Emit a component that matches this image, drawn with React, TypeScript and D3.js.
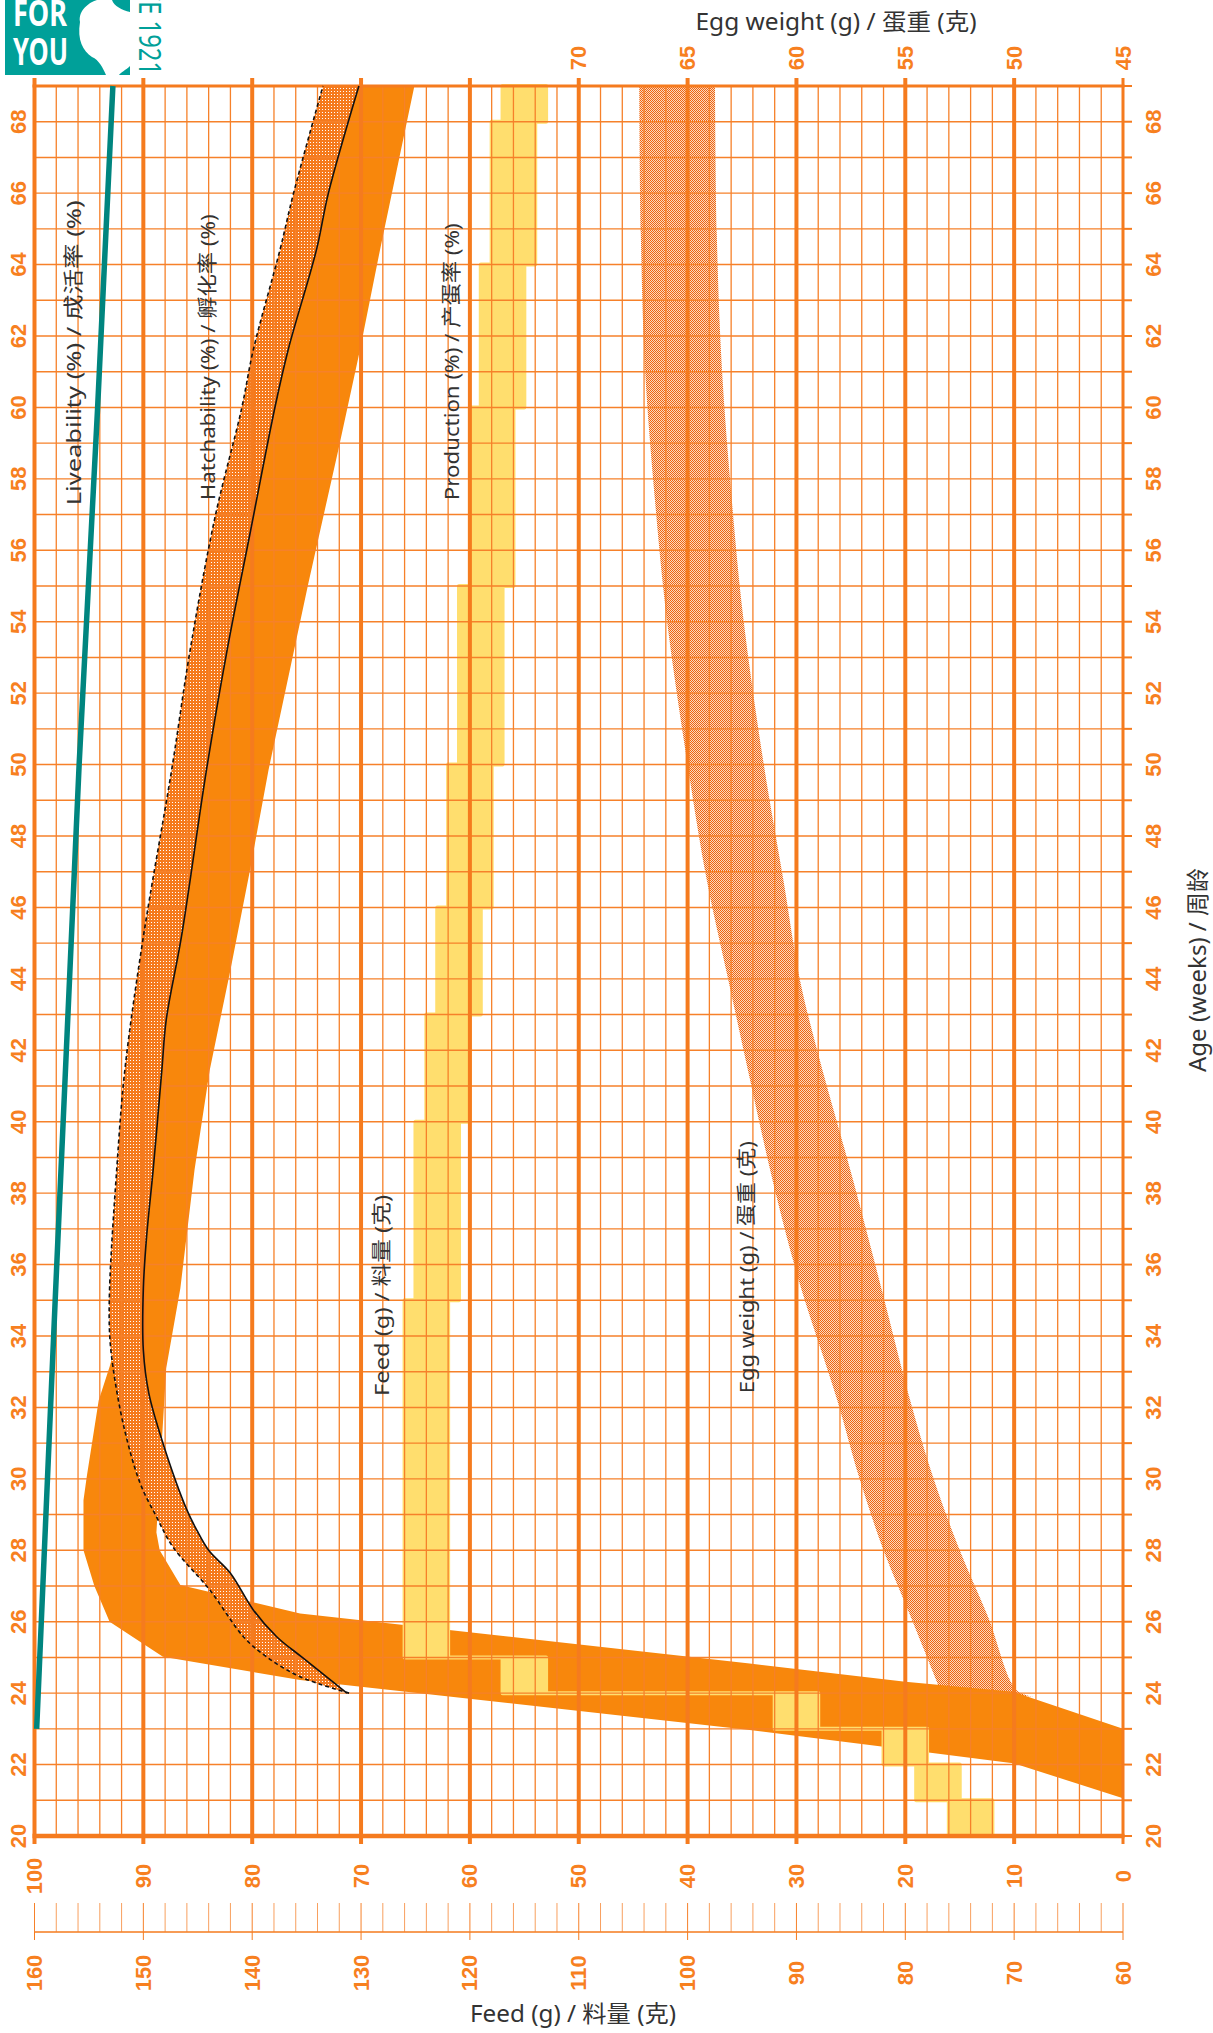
import React from 'react';
import * as d3 from 'd3';

const W = 1213;
const H = 2033;

// ---- Data ----
// Liveability (%)
const liveAges = [23, 35, 50, 60, 69];
const liveValues = [99.8, 98.1, 95.9, 94.2, 92.8];

// Hatchability (%) upper (dashed) and lower (solid) standard
const hatchUpperAges = [24, 24.46, 25.02, 25.58, 26.89, 28.1, 28.94, 29.88, 31.47, 33.15, 34.07, 35.34, 38.65, 41.45, 45.18, 49.85, 53.21, 56.95, 59.93, 61.61, 64.41, 66, 69];
const hatchUpperValues = [71.1, 75.6, 78.7, 80.8, 83.9, 87.3, 88.8, 90.3, 91.8, 92.8, 93.1, 93.1, 92.45, 91.7, 90.0, 87.4, 85.7, 83.4, 81.0, 79.9, 77.45, 76.2, 73.5];
const hatchLowerAges = [24, 25, 25.58, 26.33, 27.36, 28.0, 28.57, 29.13, 31.0, 32.4, 33.6, 35.34, 36.79, 38.65, 41.45, 42.85, 45.18, 49.85, 53.21, 56.47, 60.02, 61.61, 64.41, 66, 69];
const hatchLowerValues = [71.3, 75.4, 77.75, 79.9, 82.0, 84.0, 85.1, 86.0, 88.2, 89.5, 90.0, 90.0, 89.7, 89.1, 88.3, 87.9, 86.5, 84.2, 82.3, 80.2, 77.9, 76.7, 74.1, 73.0, 70.2];

// Production (%) high and low standard
const prodHighAges = [21.06, 22.04, 22.5, 22.97, 24.37, 25.02, 26.0, 27.0, 28.0, 29.4, 30.06, 32.2, 33.14, 34.0, 35.3, 38.65, 41.45, 45.18, 49.85, 53.2, 56.5, 60.0, 64.4, 69];
const prodHighValues = [0, 10.1, 22, 34.3, 75.6, 88.2, 93.1, 94.5, 95.5, 95.5, 95.2, 94.1, 93.1, 92.3, 90.6, 89.7, 88.9, 87.1, 84.8, 82.9, 80.8, 78.5, 74.7, 70.6];
const prodLowAges = [23.0, 24.04, 24.32, 24.83, 26.23, 27.03, 28.0, 28.5, 33.1, 35.34, 38.65, 41.45, 44.25, 47.05, 49.85, 55.08, 58.81, 61.61, 64.41, 69];
const prodLowValues = [0, 10.1, 20, 34.3, 75.6, 86.6, 88.5, 88.8, 87.9, 86.6, 85.3, 83.9, 82.0, 80.2, 78.5, 74.84, 72.09, 70.1, 68.26, 65.1];

// Egg weight (g) upper and lower standard
const eggUpperAges = [24.1, 26.14, 28.0, 30, 32.25, 35.57, 38.37, 41.17, 43.97, 46.77, 50, 54.1, 57.41, 61.14, 64.88, 69];
const eggUpperValues = [53.4, 54.75, 56.0, 57.1, 58.15, 59.9, 61.1, 62.13, 63.13, 64.12, 65.0, 65.96, 66.5, 66.96, 67.15, 67.22];
const eggLowerAges = [23.9, 24.09, 26.14, 28.0, 30.0, 32.25, 35.1, 38.37, 41.89, 43.97, 46.77, 50, 54.1, 57.41, 61.14, 64.88, 69];
const eggLowerValues = [49.1, 49.9, 51.2, 52.5, 53.7, 54.8, 56.0, 57.4, 59.0, 59.84, 60.6, 61.5, 62.44, 62.97, 63.43, 63.66, 63.74];

// Feed (g) steps
const feedStart = [20, 21, 22, 23, 24, 25, 35, 40, 43, 46, 50, 55, 60, 64, 68];
const feedLow = [72, 75, 78, 88, 113, 122, 121, 120, 119, 118, 117, 116, 115, 114, 113];
const feedHigh = [76, 79, 82, 92, 117, 126, 125, 124, 123, 122, 121, 120, 119, 118, 117];

// Ticks
const pctTicks = d3.range(0, 101, 10);
const pctMinor = d3.range(2, 100, 2).filter((v) => v % 10 !== 0);
const feedTicks = d3.range(60, 161, 10);
const feedMinor = d3.range(60, 161, 2);
const eggTicks = [45, 50, 55, 60, 65, 70];
const ageLabels = d3.range(20, 69, 2);
const weekLines = d3.range(20, 70, 1);

const ORANGE = '#f57b1e';
const GRID = '#f6812a';
const LABEL = '#f7801f';
const TEXT = '#333333';
const TXTFONT = "'Noto Sans', 'Noto Sans CJK SC', sans-serif";
const NUMFONT = "'Liberation Sans', Arial, sans-serif";

export default function App() {
  const yAge = d3.scaleLinear().domain([20, 69]).range([1836, 86]);
  const xPct = d3.scaleLinear().domain([0, 100]).range([1123, 34.5]);
  const xEgg = d3.scaleLinear().domain([45, 95]).range([1123, 34.5]);
  const xFeed = d3.scaleLinear().domain([60, 160]).range([1123, 34.5]);

  const pts = (ages: number[], vals: number[], xs: (v: number) => number) =>
    ages.map((a, i) => [xs(vals[i]), yAge(a)] as [number, number]);

  const smooth = d3.line().curve(d3.curveCatmullRom.alpha(0.5));
  const straight = d3.line().curve(d3.curveLinear);

  const band = (up: [number, number][], lo: [number, number][], gen: any) =>
    gen(up) + 'L' + (gen(lo.slice().reverse()) as string).slice(1) + 'Z';

  const hatchUp = pts(hatchUpperAges, hatchUpperValues, xPct);
  const hatchLo = pts(hatchLowerAges, hatchLowerValues, xPct);
  const prodHi = pts(prodHighAges, prodHighValues, xPct);
  const prodLo = pts(prodLowAges, prodLowValues, xPct);
  const eggUp = pts(eggUpperAges, eggUpperValues, xEgg);
  const eggLo = pts(eggLowerAges, eggLowerValues, xEgg);
  const live = pts(liveAges, liveValues, xPct);

  const feedEnd = [...feedStart.slice(1), 69];
  const feedPts = feedStart.flatMap((s, i) => [
    { age: s, lo: feedLow[i], hi: feedHigh[i] },
    { age: feedEnd[i], lo: feedLow[i], hi: feedHigh[i] },
  ]);
  const feedArea = d3
    .area<{ age: number; lo: number; hi: number }>()
    .y((d) => yAge(d.age))
    .x0((d) => xFeed(d.lo))
    .x1((d) => xFeed(d.hi));

  const rotLabel = (x: number, y: number, txt: string, len: number, size: number, anchor = 'start') => (
    <text
      transform={`translate(${x},${y}) rotate(-90)`}
      textAnchor={anchor}
      dominantBaseline="central"
      fontFamily={TXTFONT}
      fontSize={size}
      fill={TEXT}
      textLength={len}
      lengthAdjust="spacingAndGlyphs"
    >
      {txt}
    </text>
  );

  const numLabel = (x: number, y: number, txt: string, key: string) => (
    <text
      key={key}
      transform={`translate(${x},${y}) rotate(-90)`}
      textAnchor="middle"
      dominantBaseline="central"
      fontFamily={NUMFONT}
      fontWeight={700}
      fontSize={22}
      fill={LABEL}
    >
      {txt}
    </text>
  );

  const top = yAge(69);
  const bottom = yAge(20);
  const left = xPct(100);
  const right = xPct(0);

  return (
    <svg
      width={W}
      height={H}
      viewBox={`0 0 ${W} ${H}`}
      style={{ position: 'absolute', left: 0, top: 0, display: 'block', background: '#fff' }}
    >
      <defs>
        <pattern id="dots" x="0" y="0" width="3" height="3" patternUnits="userSpaceOnUse">
          <rect width="3" height="3" fill="#f57a1c" />
          <rect x="1" y="1" width="1" height="1" fill="#ffffff" />
        </pattern>
        <pattern id="checker" x="0" y="0" width="2" height="2" patternUnits="userSpaceOnUse">
          <rect width="2" height="2" fill="#fbd9bf" />
          <rect x="0" y="0" width="1" height="1" fill="#ef6512" />
          <rect x="1" y="1" width="1" height="1" fill="#ef6512" />
        </pattern>
      </defs>

      <rect x={0} y={0} width={W} height={H} fill="#fff" />

      {/* Logo */}
      <g>
        <rect x={5} y={0} width={125} height={75} fill="#00a099" />
        <path
          d="M 80 22 C 78 10, 90 2, 97 0 L 112 0 C 114 6, 122 10, 130 12 L 130 66 C 126 70, 121 72, 119 75 L 106 75 C 103 68, 99 60, 92 57 C 83 51, 77 40, 80 22 Z"
          fill="#ffffff"
        />
        <text x={13} y={26} fill="#fff" fontFamily={TXTFONT} fontWeight={700} fontSize={36} textLength={54} lengthAdjust="spacingAndGlyphs">FOR</text>
        <text x={13} y={65} fill="#fff" fontFamily={TXTFONT} fontWeight={700} fontSize={38} textLength={55} lengthAdjust="spacingAndGlyphs">YOU</text>
        <text
          transform="translate(139,75) rotate(90)"
          textAnchor="end"
          fill="#00a099"
          fontFamily={TXTFONT}
          fontSize={31}
          textLength={128}
          lengthAdjust="spacingAndGlyphs"
        >
          SINCE 1921
        </text>
      </g>

      {/* Bands */}
      <path d={band(eggUp, eggLo, smooth)} fill="url(#checker)" />
      <path d={band(prodHi, prodLo, straight)} fill="#f8870c" />
      <path
        d={feedArea(feedPts) as string}
        fill="#ffde6e"
        stroke="#ffde6e"
        strokeWidth={4}
        strokeLinejoin="round"
      />
      <path d={band(hatchUp, hatchLo, smooth)} fill="url(#dots)" />

      {/* Grid */}
      <g>
        {weekLines.map((a) => (
          <line key={'h' + a} x1={left} x2={right} y1={yAge(a)} y2={yAge(a)} stroke={GRID} strokeWidth={1.4} />
        ))}
        {pctMinor.map((p) => (
          <line key={'v' + p} x1={xPct(p)} x2={xPct(p)} y1={top} y2={bottom} stroke={GRID} strokeWidth={1.3} />
        ))}
        {pctTicks.map((p) => (
          <line key={'V' + p} x1={xPct(p)} x2={xPct(p)} y1={top - 8} y2={bottom + 8} stroke={ORANGE} strokeWidth={p === 0 ? 3 : 4} />
        ))}
        <line x1={left - 2} x2={right + 1.5} y1={top} y2={top} stroke={ORANGE} strokeWidth={3} />
        <line x1={left - 2} x2={right + 1.5} y1={bottom} y2={bottom} stroke={ORANGE} strokeWidth={4.5} />
        {weekLines.map((a) => (
          <line key={'t' + a} x1={right} x2={right + 9} y1={yAge(a)} y2={yAge(a)} stroke={ORANGE} strokeWidth={2} />
        ))}
      </g>

      {/* Hatchability boundary lines */}
      <path d={smooth(hatchUp) as string} fill="none" stroke="#111" strokeWidth={1.6} strokeDasharray="4 3" />
      <path d={smooth(hatchLo) as string} fill="none" stroke="#111" strokeWidth={1.6} />

      {/* Liveability */}
      <path d={straight(live) as string} fill="none" stroke="#00857f" strokeWidth={5.5} />

      {/* Feed axis */}
      <g>
        <line x1={xFeed(160)} x2={xFeed(60)} y1={1932} y2={1932} stroke={ORANGE} strokeWidth={1.5} />
        {feedMinor.map((f) => (
          <line key={'fm' + f} x1={xFeed(f)} x2={xFeed(f)} y1={1903} y2={1932} stroke={GRID} strokeWidth={1} opacity={f % 10 === 0 ? 1 : 0.75} />
        ))}
        {feedTicks.map((f) => (
          <line key={'ft' + f} x1={xFeed(f)} x2={xFeed(f)} y1={1932} y2={1940} stroke={ORANGE} strokeWidth={1} />
        ))}
        {feedTicks.map((f) => numLabel(xFeed(f), 1973, String(f), 'fl' + f))}
      </g>

      {/* Tick labels */}
      {ageLabels.map((a) => numLabel(18.5, yAge(a), String(a), 'al' + a))}
      {ageLabels.map((a) => numLabel(1153, yAge(a), String(a), 'ar' + a))}
      {pctTicks.map((p) => numLabel(xPct(p), 1876, String(p), 'pl' + p))}
      {eggTicks.map((e) => numLabel(xEgg(e), 58, String(e), 'el' + e))}

      {/* Axis titles */}
      <text x={836} y={30} textAnchor="middle" fontFamily={TXTFONT} fontSize={23} fill={TEXT} textLength={281} lengthAdjust="spacingAndGlyphs">
        Egg weight (g) / 蛋重 (克)
      </text>
      <text x={573} y={2022} textAnchor="middle" fontFamily={TXTFONT} fontSize={23} fill={TEXT} textLength={206} lengthAdjust="spacingAndGlyphs">
        Feed (g) / 料量 (克)
      </text>
      {rotLabel(1197, 970, 'Age (weeks) / 周龄', 204, 23, 'middle')}

      {/* In-chart series labels */}
      {rotLabel(xPct(96.4), yAge(57.26), 'Liveability (%) / 成活率 (%)', 305, 20)}
      {rotLabel(xPct(84.1), yAge(57.4), 'Hatchability (%) / 孵化率 (%)', 286, 20)}
      {rotLabel(xPct(61.7), yAge(57.4), 'Production (%) / 产蛋率 (%)', 277, 20)}
      {rotLabel(xPct(68.1), yAge(32.32), 'Feed (g) / 料量 (克)', 201, 20)}
      {rotLabel(xPct(34.6), yAge(32.4), 'Egg weight (g) / 蛋重 (克)', 252, 20)}
    </svg>
  );
}
